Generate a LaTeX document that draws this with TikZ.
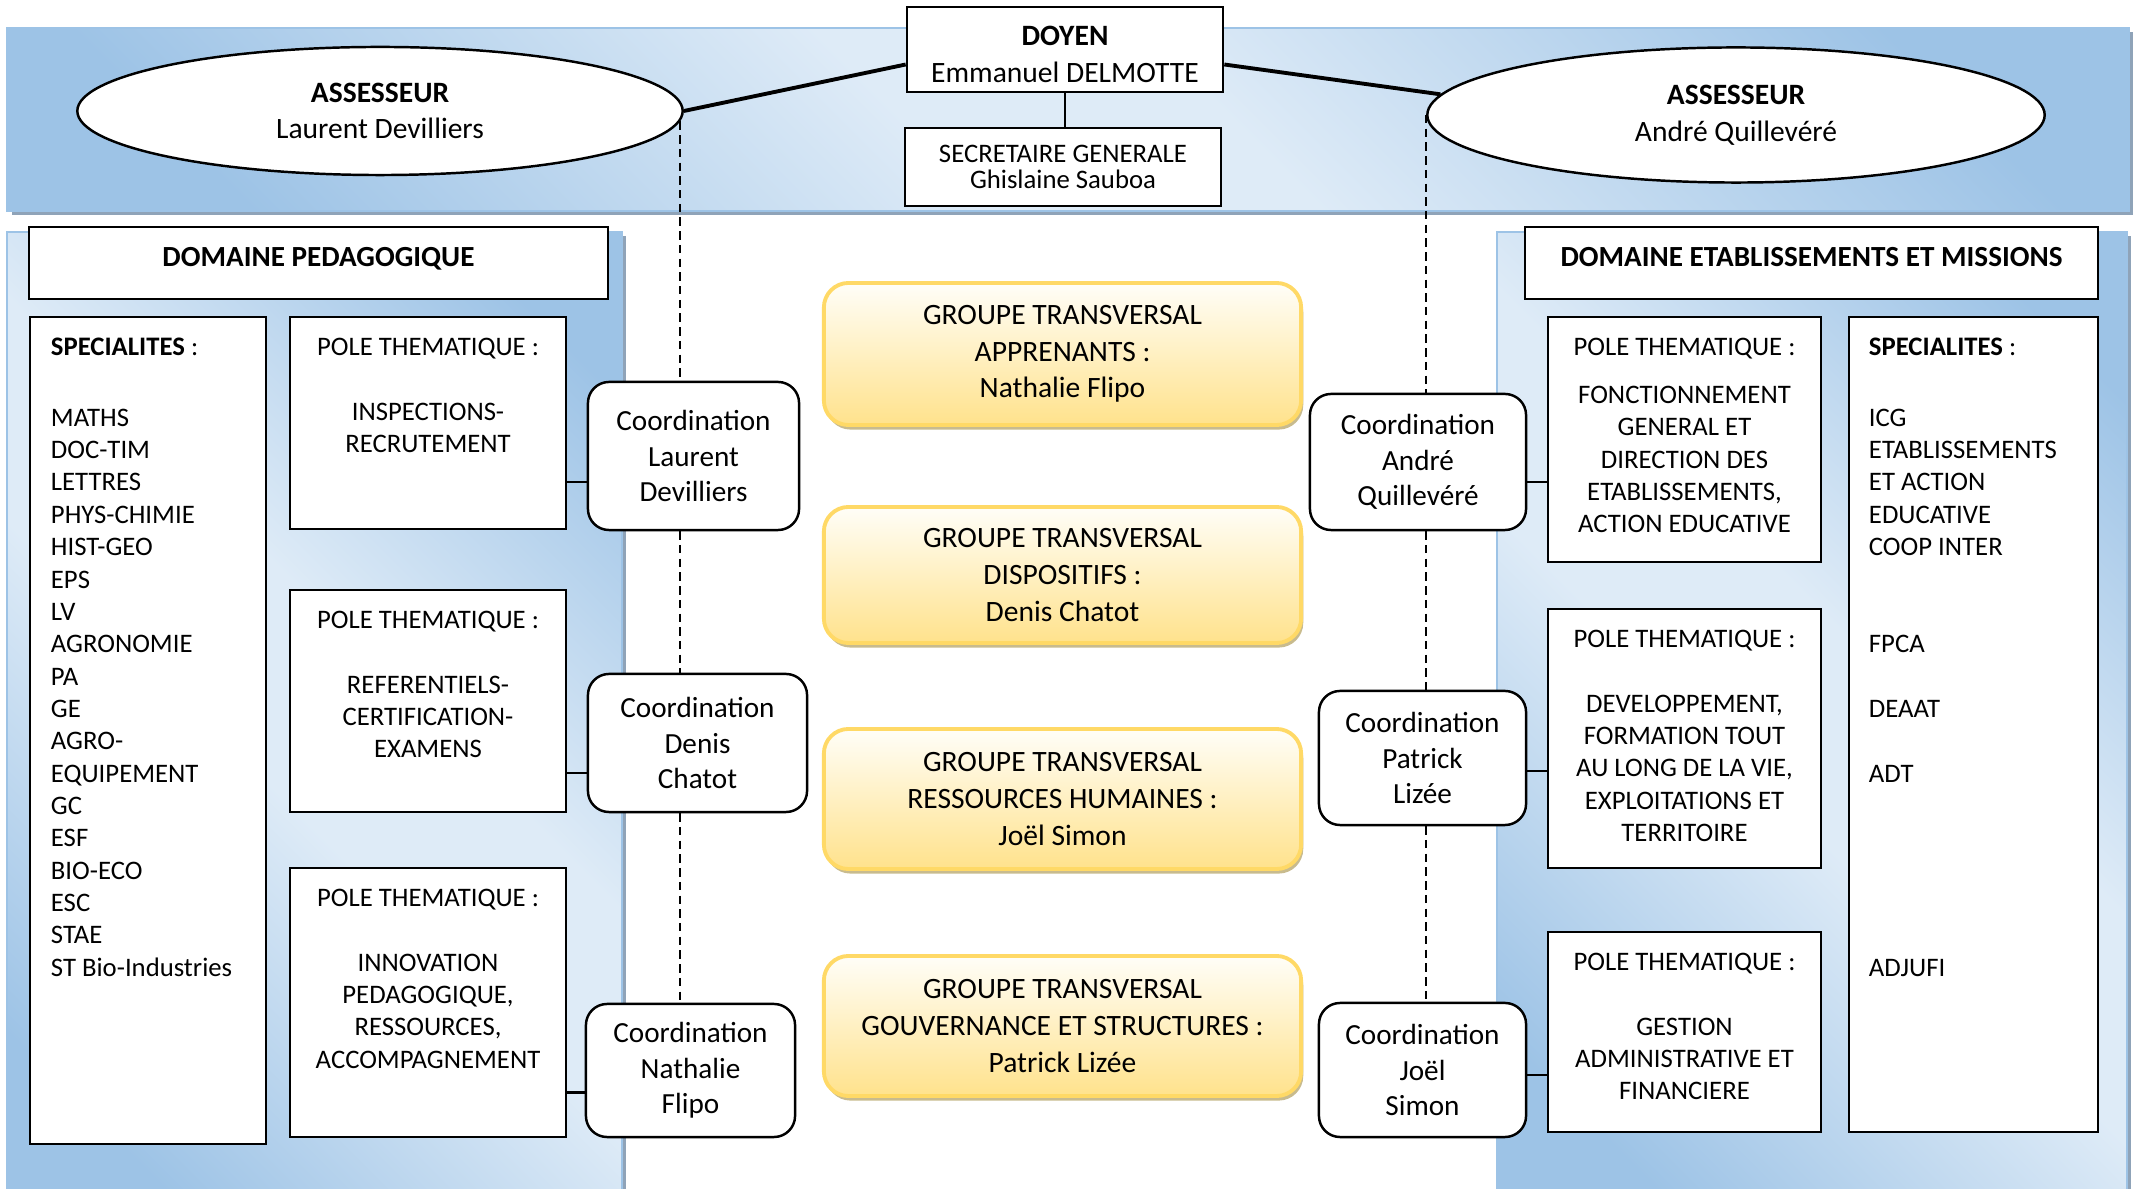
\documentclass[tikz,border=0pt]{standalone}
\usepackage{fontspec}
\setmainfont{Carlito}
\usetikzlibrary{shapes.geometric, shadows, backgrounds}

\newdimen\pxu \pxu=0.284528pt
\definecolor{bandlight}{HTML}{DEEBF7}
\definecolor{banddark}{HTML}{9DC3E6}
\definecolor{bandshadow}{HTML}{8FA3B8}
\definecolor{grptop}{HTML}{FFFEF8}
\definecolor{grpbot}{HTML}{FFE28C}
\definecolor{grpedge}{HTML}{FFD966}
\definecolor{grpshadow}{HTML}{C8BB8E}
\pgfdeclarehorizontalshading{panelshade}{100bp}{color(0bp)=(banddark); color(22bp)=(banddark); color(45bp)=(bandlight); color(55bp)=(bandlight); color(78bp)=(banddark); color(100bp)=(banddark)}
% text block glued to the top of a box: height, width, alignment, text
\newcommand{\toptext}[4]{\parbox[c][#1\pxu][t]{#2\pxu}{#3\vspace*{4.5pt}\strut#4}}

\begin{document}
\begin{tikzpicture}[
    x=0.01cm, y=-0.01cm,
    wh/.style 2 args = {minimum width=#1\pxu, minimum height=#2\pxu},
    headbox/.style = {rectangle, draw=black, line width=0.7pt, fill=white, align=center, inner sep=0pt, font=\fontsize{8.4}{10.6}\selectfont},
    assbox/.style = {ellipse, draw=black, line width=0.7pt, fill=white, align=center, inner sep=0pt, font=\fontsize{8.4}{10.4}\selectfont},
    dombox/.style = {rectangle, draw=black, line width=0.7pt, fill=white, inner sep=0pt, text height=6pt, text depth=4pt, font=\bfseries\fontsize{8.3}{10}\selectfont},
    polebox/.style = {rectangle, draw=black, line width=0.7pt, fill=white, inner sep=0pt, font=\fontsize{7.6}{9.2}\selectfont},
    coordbox/.style = {rectangle, draw=black, line width=0.7pt, fill=white, rounded corners=6pt, align=center, inner sep=0pt, font=\fontsize{8.3}{10.1}\selectfont},
    grpbox/.style = {rectangle, draw=grpedge, line width=1.1pt, top color=grptop, bottom color=grpbot, rounded corners=7pt, align=center, inner sep=0pt, font=\fontsize{8.4}{10.4}\selectfont, execute at begin node=\rule{0pt}{7.6pt}, drop shadow={shadow xshift=0.6pt, shadow yshift=-1.3pt, fill=grpshadow, opacity=1}},
    panelbox/.style = {rectangle, inner sep=0pt, draw=banddark, line width=0.5pt, shade, shading=panelshade, shading angle=45, drop shadow={shadow xshift=1.2pt, shadow yshift=-1.2pt, fill=bandshadow, opacity=1}},
    conn/.style = {draw, line width=0.7pt},
    strong/.style = {draw, line width=1.1pt},
    dashlink/.style = {draw, line width=0.5pt, dash pattern=on 2.4pt off 1.5pt},
]
\useasboundingbox (0,0) rectangle (2136,1189);

% Direction
\node [headbox, wh={316}{85}] (doyen) at (1065,49.5) {\rule{0pt}{8.2pt}\textbf{DOYEN}\\Emmanuel DELMOTTE};
\node [headbox, wh={316}{78}, font=\fontsize{7.6}{7.6}\selectfont] (secr) at (1063,167) {SECRETAIRE GENERALE\\Ghislaine Sauboa};
\node [assbox, wh={605}{128}] (assL) at (380,111) {\textbf{ASSESSEUR}\\Laurent Devilliers};
\node [assbox, wh={617}{135}] (assR) at (1736,115) {\textbf{ASSESSEUR}\\André Quillevéré};

% Domaines
\node [dombox, wh={579}{72}] (domP) at (318.5,263) {DOMAINE PEDAGOGIQUE};
\node [dombox, wh={573}{72}] (domE) at (1811.5,263) {DOMAINE ETABLISSEMENTS ET MISSIONS};

% Domaine pedagogique
\node [polebox] (specL) at (148,730.5) {\toptext{827}{236}{\raggedright\leftskip=21\pxu}{\textbf{SPECIALITES} :\\[11pt]MATHS\\DOC-TIM\\LETTRES\\PHYS-CHIMIE\\HIST-GEO\\EPS\\LV\\AGRONOMIE\\PA\\GE\\AGRO-\\EQUIPEMENT\\GC\\ESF\\BIO-ECO\\ESC\\STAE\\ST Bio-Industries}};
\node [polebox] (pl1) at (428,423) {\toptext{212}{276}{\centering}{POLE THEMATIQUE :\\[\baselineskip]INSPECTIONS-\\RECRUTEMENT}};
\node [polebox] (pl2) at (428,701) {\toptext{222}{276}{\centering}{POLE THEMATIQUE :\\[\baselineskip]REFERENTIELS-\\CERTIFICATION-\\EXAMENS}};
\node [polebox] (pl3) at (428,1002.5) {\toptext{269}{276}{\centering}{POLE THEMATIQUE :\\[\baselineskip]INNOVATION\\PEDAGOGIQUE,\\RESSOURCES,\\ACCOMPAGNEMENT}};

\node [coordbox, wh={211}{148}] (coordL) at (693.5,456) {Coordination\\Laurent\\Devilliers};
\node [coordbox, wh={219}{138}] (coordD) at (697.5,743) {Coordination\\Denis\\Chatot};
\node [coordbox, wh={209}{133}] (coordN) at (690.5,1070.5) {Coordination\\Nathalie\\Flipo};

% Groupes transversaux
\node [grpbox, wh={477}{142}] (grp1) at (1062.5,354) {GROUPE TRANSVERSAL\\APPRENANTS :\\Nathalie Flipo};
\node [grpbox, wh={477}{136}] (grp2) at (1062.5,575) {GROUPE TRANSVERSAL\\DISPOSITIFS :\\Denis Chatot};
\node [grpbox, wh={477}{140}] (grp3) at (1062.5,799) {GROUPE TRANSVERSAL\\RESSOURCES HUMAINES :\\Joël Simon};
\node [grpbox, wh={477}{140}] (grp4) at (1062.5,1026) {GROUPE TRANSVERSAL\\GOUVERNANCE ET STRUCTURES :\\Patrick Lizée};

% Domaine etablissements et missions
\node [coordbox, wh={216}{136}] (coordA) at (1418,462) {Coordination\\André\\Quillevéré};
\node [coordbox, wh={207}{134}] (coordP) at (1422.5,758) {Coordination\\Patrick\\Lizée};
\node [coordbox, wh={207}{134}] (coordJ) at (1422.5,1070) {Coordination\\Joël\\Simon};

\node [polebox] (pr1) at (1684.5,439.5) {\toptext{245}{273}{\centering}{POLE THEMATIQUE :\\[4.5pt]FONCTIONNEMENT\\GENERAL ET\\DIRECTION DES\\ETABLISSEMENTS,\\ACTION EDUCATIVE}};
\node [polebox] (pr2) at (1684.5,738.5) {\toptext{259}{273}{\centering}{POLE THEMATIQUE :\\[\baselineskip]DEVELOPPEMENT,\\FORMATION TOUT\\AU LONG DE LA VIE,\\EXPLOITATIONS ET\\TERRITOIRE}};
\node [polebox] (pr3) at (1684.5,1032) {\toptext{200}{273}{\centering}{POLE THEMATIQUE :\\[\baselineskip]GESTION\\ADMINISTRATIVE ET\\FINANCIERE}};
\node [polebox] (specR) at (1973.5,724.5) {\toptext{815}{249}{\raggedright\leftskip=20\pxu}{\textbf{SPECIALITES} :\\[11pt]ICG\\ETABLISSEMENTS\\ET ACTION\\EDUCATIVE\\COOP INTER\\[2\baselineskip]FPCA\\[\baselineskip]DEAAT\\[\baselineskip]ADT\\[5\baselineskip]ADJUFI}};

% Paths
\path [strong] ([yshift=-15\pxu]doyen.west) -- (assL.east);
\path [strong] ([yshift=-15\pxu]doyen.east) -- (assR.176);
\path [conn] (doyen.south) -- (doyen.south |- secr.north);

\path [dashlink] (assL.-2) -- (assL.-2 |- coordL.north);
\path [dashlink] (assL.-2 |- coordL.south) -- (assL.-2 |- coordD.north);
\path [dashlink] (assL.-2 |- coordD.south) -- (assL.-2 |- coordN.north);
\path [dashlink] (assR.west) -- (assR.west |- coordA.north);
\path [dashlink] (assR.west |- coordA.south) -- (assR.west |- coordP.north);
\path [dashlink] (assR.west |- coordP.south) -- (assR.west |- coordJ.north);

\path [conn] ([yshift=-26\pxu]coordL.west) -- ([yshift=-26\pxu]coordL.west -| pl1.east);
\path [conn] ([yshift=-30\pxu]coordD.west) -- ([yshift=-30\pxu]coordD.west -| pl2.east);
\path [conn] ([yshift=-22\pxu]coordN.west) -- ([yshift=-22\pxu]coordN.west -| pl3.east);
\path [conn] ([yshift=-20\pxu]coordA.east) -- ([yshift=-20\pxu]coordA.east -| pr1.west);
\path [conn] ([yshift=-13\pxu]coordP.east) -- ([yshift=-13\pxu]coordP.east -| pr2.west);
\path [conn] ([yshift=-5\pxu]coordJ.east) -- ([yshift=-5\pxu]coordJ.east -| pr3.west);

% Background panels
\begin{scope}[on background layer]
    \node [panelbox, wh={2120}{183}] (band) at (1068,119.5) {};
    \node [panelbox, wh={615}{968}] (panelP) at (314.5,716) {};
    \node [panelbox, wh={630}{968}] (panelE) at (1812,716) {};
\end{scope}

\end{tikzpicture}
\end{document}
